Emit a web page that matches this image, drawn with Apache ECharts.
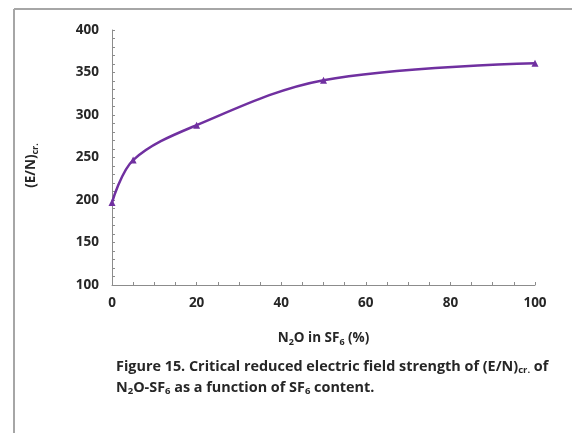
<!DOCTYPE html>
<html>
<head>
<meta charset="utf-8">
<script src="https://cdn.jsdelivr.net/npm/echarts@6/dist/echarts.min.js"></script>
<style>
  html, body { margin: 0; padding: 0; background: #fff; }
  #chart { width: 572px; height: 433px; }
</style>
</head>
<body>
<div id="chart"></div>
<script>
// N2O content in SF6 (%) and critical reduced field (E/N)cr.
const n2oPercent = [0, 5, 20, 50, 100];
const enCritical = [197, 247, 288, 341, 361];
const xTicks = [0, 20, 40, 60, 80, 100];
const yTicks = [100, 150, 200, 250, 300, 350, 400];

const FONT = '"Open Sans", "Noto Sans", sans-serif';
const TEXT = '#262626';
const LINE = '#7030A0';
const AXIS = '#8c8c8c';

const chart = echarts.init(document.getElementById('chart'), null, { renderer: 'canvas' });

// rich-text styles: regular run and lowered subscript run
function richStyles(size, subSize, lh) {
  return {
    m: { fontSize: size, fontWeight: 'bold', color: TEXT, fontFamily: FONT, lineHeight: lh, verticalAlign: 'middle' },
    s: { fontSize: subSize, fontWeight: 'bold', color: TEXT, fontFamily: FONT, lineHeight: lh, verticalAlign: 'bottom' }
  };
}

const captionRich = richStyles(14.4, 9.5, 21);
captionRich.s.padding = [0, 0, 2, 0];

chart.setOption({
  animation: false,
  backgroundColor: '#fff',
  grid: { left: 112, right: 37, top: 30, bottom: 148, containLabel: false },
  xAxis: {
    type: 'value',
    min: xTicks[0], max: xTicks[xTicks.length - 1], interval: 20,
    axisLine: { lineStyle: { color: AXIS, width: 1 } },
    axisTick: { inside: true, length: 3, lineStyle: { color: AXIS } },
    minorTick: { show: true, splitNumber: 4, length: 3, lineStyle: { color: AXIS } },
    splitLine: { show: false },
    axisLabel: { margin: 11, fontSize: 13.5, fontWeight: 'bold', color: TEXT, fontFamily: FONT },
    name: '{m|N}{s|2}{m|O in SF}{s|6}{m| (%)}',
    nameLocation: 'middle', nameGap: 44,
    nameTextStyle: { rich: richStyles(13.5, 9, 18) }
  },
  yAxis: {
    type: 'value',
    min: yTicks[0], max: yTicks[yTicks.length - 1], interval: 50,
    axisLine: { show: true, lineStyle: { color: AXIS, width: 1 } },
    axisTick: { show: true, inside: true, length: 3, lineStyle: { color: AXIS } },
    minorTick: { show: true, splitNumber: 5, length: 3, lineStyle: { color: AXIS } },
    splitLine: { show: false },
    axisLabel: { margin: 13, fontSize: 13.5, fontWeight: 'bold', color: TEXT, fontFamily: FONT },
    name: '{m|(E/N)}{s|cr.}',
    nameLocation: 'middle', nameGap: 72, nameRotate: 90,
    nameTextStyle: { padding: [0, 16, 0, 0], rich: richStyles(13.5, 9, 18) }
  },
  title: {
    left: 116, top: 356, padding: 0,
    text: '{m|Figure 15. Critical reduced electric field strength of (E/N)}{s|cr.}{m| of}\n{m|N}{s|2}{m|O-SF}{s|6}{m| as a function of SF}{s|6}{m| content.}',
    textStyle: { lineHeight: 21, rich: captionRich }
  },
  graphic: [
    { type: 'line', shape: { x1: 14, y1: 9, x2: 572, y2: 9 }, style: { stroke: '#a6a6a6', lineWidth: 2 } },
    { type: 'line', shape: { x1: 14, y1: 9, x2: 14, y2: 433 }, style: { stroke: '#a6a6a6', lineWidth: 2 } }
  ],
  series: [{
    type: 'line',
    data: n2oPercent.map((x, i) => [x, enCritical[i]]),
    smooth: 0.35,
    symbol: 'triangle',
    symbolSize: 7,
    lineStyle: { color: LINE, width: 2.5 },
    itemStyle: { color: LINE }
  }]
});
</script>
</body>
</html>
